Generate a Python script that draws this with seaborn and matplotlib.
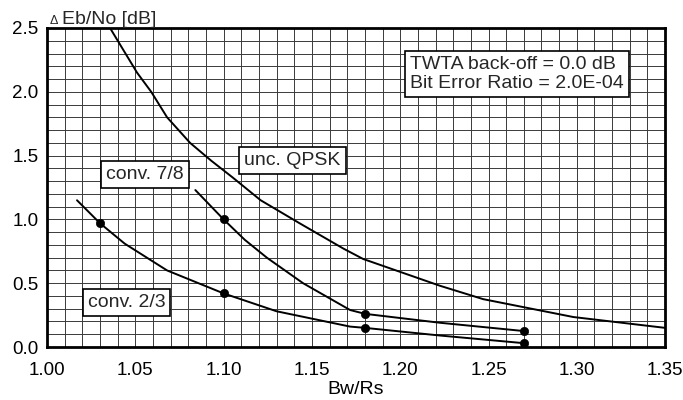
import numpy as np
import pandas as pd
import matplotlib
matplotlib.use("Agg")
import matplotlib.pyplot as plt
import seaborn as sns
from matplotlib.ticker import MultipleLocator, FormatStrFormatter

# curves (Bw/Rs, delta Eb/No in dB)
unc_x = [1.0357, 1.051, 1.059, 1.068, 1.081, 1.093, 1.105, 1.121, 1.143, 1.168,
         1.179, 1.2225, 1.247, 1.298, 1.35]
unc_y = [2.50, 2.15, 2.00, 1.80, 1.60, 1.46, 1.33, 1.15, 0.97, 0.77,
         0.69, 0.48, 0.375, 0.235, 0.15]

c78_x = [1.084, 1.10, 1.112, 1.1245, 1.145, 1.1716, 1.18, 1.2225, 1.27]
c78_y = [1.23, 1.00, 0.84, 0.70, 0.50, 0.29, 0.26, 0.19, 0.125]

c23_x = [1.017, 1.03, 1.044, 1.068, 1.10, 1.13, 1.1716, 1.18, 1.2225, 1.27]
c23_y = [1.15, 0.97, 0.81, 0.60, 0.42, 0.28, 0.16, 0.15, 0.09, 0.03]

# computed points (dots)
c78_pts_x = [1.10, 1.18, 1.27]
c78_pts_y = [1.00, 0.26, 0.125]
c23_pts_x = [1.03, 1.10, 1.18, 1.27]
c23_pts_y = [0.97, 0.42, 0.15, 0.03]

x_ticks = [1.00, 1.05, 1.10, 1.15, 1.20, 1.25, 1.30, 1.35]
y_ticks = [0.0, 0.5, 1.0, 1.5, 2.0, 2.5]

sns.set_theme(style="white")
plt.rcParams["font.family"] = ["Liberation Sans", "DejaVu Sans"]

fig = plt.figure(figsize=(6.83, 4.0), dpi=100)
ax = fig.add_axes([0.0688, 0.1325, 0.905, 0.7975])

curves = pd.concat([
    pd.DataFrame({"x": unc_x, "y": unc_y, "s": "unc"}),
    pd.DataFrame({"x": c78_x, "y": c78_y, "s": "c78"}),
    pd.DataFrame({"x": c23_x, "y": c23_y, "s": "c23"}),
])
sns.lineplot(data=curves, x="x", y="y", units="s", estimator=None, sort=False,
             color="black", lw=1.4, ax=ax)

pts = pd.DataFrame({"x": c78_pts_x + c23_pts_x, "y": c78_pts_y + c23_pts_y})
sns.scatterplot(data=pts, x="x", y="y", color="black", s=36, edgecolor="black",
                zorder=5, ax=ax)

ax.set_xlim(1.0, 1.35)
ax.set_ylim(0.0, 2.5)
ax.set_xticks(x_ticks)
ax.set_yticks(y_ticks)
ax.xaxis.set_major_formatter(FormatStrFormatter("%.2f"))
ax.yaxis.set_major_formatter(FormatStrFormatter("%.1f"))
ax.xaxis.set_minor_locator(MultipleLocator(0.01))
ax.yaxis.set_minor_locator(MultipleLocator(0.1))
ax.grid(which="both", color="#3a3a3a", lw=0.7)
ax.set_axisbelow(True)
ax.tick_params(which="both", length=0, labelsize=13.5, colors="black")
ax.tick_params(axis="x", pad=11)
ax.tick_params(axis="y", pad=6)
for sp in ax.spines.values():
    sp.set_color("black")
    sp.set_linewidth(2)

ax.set_xlabel("Bw/Rs", fontsize=14, labelpad=1, color="black")
ax.set_ylabel("")
fig.text(0.079, 0.94, "\u0394", fontsize=9, ha="center", va="baseline")
fig.text(0.0905, 0.94, "Eb/No [dB]", fontsize=14, ha="left", va="baseline")

box = dict(boxstyle="square,pad=0.25", fc="white", ec="black", lw=1.2)
ax.text(1.0555, 1.35, "conv. 7/8", fontsize=14, ha="center", va="center", bbox=box)
ax.text(1.139, 1.46, "unc. QPSK", fontsize=14, ha="center", va="center", bbox=box)
ax.text(1.045, 0.35, "conv. 2/3", fontsize=14, ha="center", va="center", bbox=box)
ax.text(1.2055, 2.14, "TWTA back-off = 0.0 dB\nBit Error Ratio = 2.0E-04",
        fontsize=14, ha="left", va="center", linespacing=1.15, bbox=box)

fig.savefig("out.png", dpi=100)
